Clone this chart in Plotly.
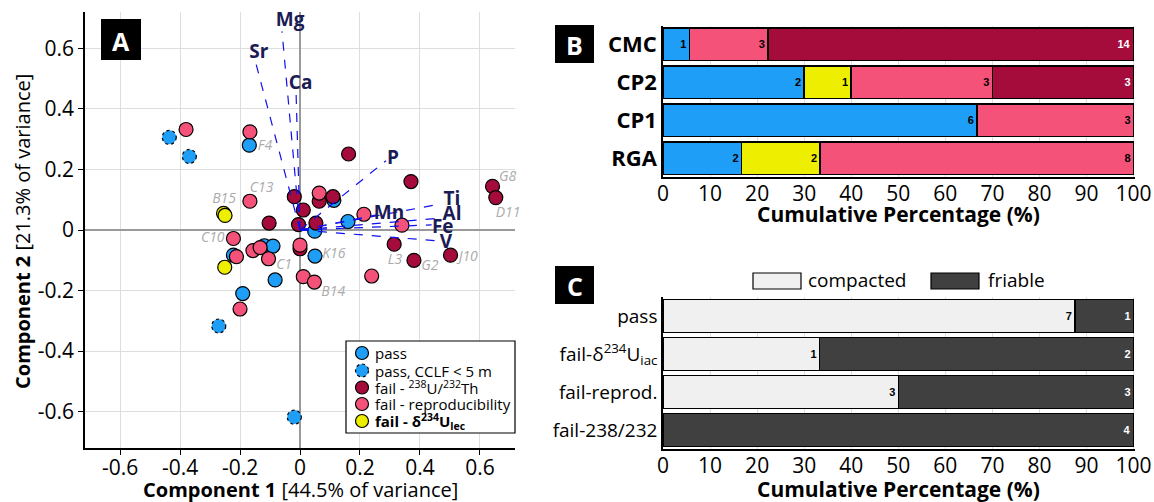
import plotly.graph_objects as go

W, H = 1154, 502
FONT = "Open Sans"

# ---------------- Panel A data (PCA biplot) ----------------
pass_x = [-0.169, 0.113, 0.160, 0.049, -0.119, -0.090, -0.222, 0.050, -0.083, -0.191]
pass_y = [0.280, 0.098, 0.028, -0.004, -0.052, -0.053, -0.083, -0.086, -0.165, -0.210]

cclf_x = [-0.436, -0.369, -0.271, -0.019]
cclf_y = [0.306, 0.243, -0.317, -0.618]

u238_x = [0.162, 0.370, 0.642, 0.653, -0.019, 0.064, 0.110, 0.011, -0.103, -0.005, 0.053, 0.314, 0.000, 0.380, 0.502]
u238_y = [0.251, 0.160, 0.144, 0.107, 0.110, 0.095, 0.110, 0.066, 0.023, 0.018, 0.023, -0.047, -0.062, -0.100, -0.083]

rep_x = [-0.380, -0.167, -0.167, 0.064, 0.213, 0.340, -0.222, -0.157, -0.133, -0.212, -0.105, 0.000, 0.011, 0.048, -0.200, 0.239]
rep_y = [0.332, 0.324, 0.095, 0.122, 0.052, 0.016, -0.028, -0.068, -0.058, -0.088, -0.095, -0.050, -0.154, -0.172, -0.261, -0.152]

dlt_x = [-0.255, -0.250, -0.251]
dlt_y = [0.055, 0.048, -0.123]

# loadings (element vectors)
elem_names = ["Mg", "Sr", "Ca", "P", "Mn", "Ti", "Al", "Fe", "V"]
elem_x = [-0.060, -0.147, -0.013, 0.287, 0.255, 0.464, 0.464, 0.439, 0.461]
elem_y = [0.656, 0.550, 0.450, 0.229, 0.050, 0.085, 0.039, 0.017, -0.036]
elem_lx = [-0.033, -0.137, 0.002, 0.310, 0.297, 0.507, 0.507, 0.476, 0.487]
elem_ly = [0.691, 0.584, 0.482, 0.235, 0.053, 0.099, 0.050, 0.007, -0.043]

# sample labels
samp_names = ["F4", "C13", "B15", "C10", "C1", "K16", "B14", "L3", "G2", "J10", "G8", "D11"]
samp_x = [-0.117, -0.128, -0.253, -0.291, -0.053, 0.113, 0.111, 0.317, 0.433, 0.561, 0.692, 0.694]
samp_y = [0.276, 0.136, 0.100, -0.029, -0.117, -0.080, -0.206, -0.100, -0.119, -0.092, 0.173, 0.055]

a_ticks = [-0.6, -0.4, -0.2, 0, 0.2, 0.4, 0.6]

# ---------------- Panel B data ----------------
b_cats = ["CMC", "CP2", "CP1", "RGA"]
b_pass_pct = [5.6, 30.0, 66.7, 16.7]
b_dlt_pct = [0.0, 10.0, 0.0, 16.7]
b_rep_pct = [16.7, 30.0, 33.3, 66.6]
b_u238_pct = [77.7, 30.0, 0.0, 0.0]
b_pass_n = [1, 2, 6, 2]
b_dlt_n = [0, 1, 0, 2]
b_rep_n = [3, 3, 3, 8]
b_u238_n = [14, 3, 0, 0]

# ---------------- Panel C data ----------------
c_cats = ["pass", "fail-δ<sup>234</sup>U<sub>iac</sub>", "fail-reprod.", "fail-238/232"]
c_comp_pct = [87.5, 33.3, 50.0, 0.0]
c_fri_pct = [12.5, 66.7, 50.0, 100.0]
c_comp_n = [7, 1, 3, 0]
c_fri_n = [1, 2, 3, 4]

pct_ticks = [0, 10, 20, 30, 40, 50, 60, 70, 80, 90, 100]

# colours
BLUE = "#1e9ef7"
DARK = "#a50b3b"
PINK = "#f5527a"
YELL = "#eeee00"
NAVY = "#1b1b55"
LIGHT = "#f0f0f0"
FRI = "#404040"


def PX(px):
    return px / W


def PY(py):
    return 1 - py / H


fig = go.Figure()

mk = dict(size=14, line=dict(color="black", width=1.2))

fig.add_trace(go.Scatter(x=pass_x, y=pass_y, mode="markers", xaxis="x", yaxis="y",
                         marker=dict(color=BLUE, **mk), showlegend=False, name="pass"))
fig.add_trace(go.Scatter(x=cclf_x, y=cclf_y, mode="markers", xaxis="x", yaxis="y",
                         marker=dict(color=BLUE, size=14, line=dict(width=0)), showlegend=False,
                         name="pass, CCLF < 5 m"))
fig.add_trace(go.Scatter(x=u238_x, y=u238_y, mode="markers", xaxis="x", yaxis="y",
                         marker=dict(color=DARK, **mk), showlegend=False, name="fail 238/232"))
fig.add_trace(go.Scatter(x=rep_x, y=rep_y, mode="markers", xaxis="x", yaxis="y",
                         marker=dict(color=PINK, **mk), showlegend=False, name="fail reproducibility"))
fig.add_trace(go.Scatter(x=dlt_x, y=dlt_y, mode="markers", xaxis="x", yaxis="y",
                         marker=dict(color=YELL, **mk), showlegend=False, name="fail d234U"))

# loading vectors
for ex, ey in zip(elem_x, elem_y):
    fig.add_trace(go.Scatter(x=[0.0, ex], y=[0.0, ey], mode="lines", xaxis="x", yaxis="y",
                             line=dict(color="#1010ee", width=1.2, dash="dash"),
                             showlegend=False, hoverinfo="skip"))
# element labels
fig.add_trace(go.Scatter(x=elem_lx, y=elem_ly, mode="text", text=["<b>%s</b>" % n for n in elem_names],
                         xaxis="x", yaxis="y", textfont=dict(family=FONT, size=19, color=NAVY),
                         showlegend=False, hoverinfo="skip", cliponaxis=False))
# sample labels
fig.add_trace(go.Scatter(x=samp_x, y=samp_y, mode="text", text=["<i>%s</i>" % n for n in samp_names],
                         xaxis="x", yaxis="y", textfont=dict(family=FONT, size=14, color="#ababab"),
                         showlegend=False, hoverinfo="skip", cliponaxis=False))

shapes = []
# dashed outlines for CCLF points
for cx, cy in zip(cclf_x, cclf_y):
    shapes.append(dict(type="circle", xref="x", yref="y", xsizemode="pixel", ysizemode="pixel",
                       xanchor=cx, yanchor=cy, x0=-7, x1=7, y0=-7, y1=7,
                       line=dict(color="black", width=1.2, dash="dot"), layer="above"))


# ---------------- Panel B / C bars ----------------
def bar(x, n, cats, color, xa, ya, txtcol, name):
    return go.Bar(y=cats, x=x, orientation="h", xaxis=xa, yaxis=ya, name=name,
                  marker=dict(color=color, line=dict(color="black", width=1.5)),
                  text=[str(v) if v > 0 else "" for v in n], textposition="inside",
                  insidetextanchor="end", constraintext="none",
                  textfont=dict(family="Liberation Sans", size=11, color=txtcol, weight="bold"),
                  showlegend=False, hoverinfo="skip")


fig.add_trace(bar(b_pass_pct, b_pass_n, b_cats, BLUE, "x2", "y2", "black", "pass"))
fig.add_trace(bar(b_dlt_pct, b_dlt_n, b_cats, YELL, "x2", "y2", "black", "fail-d234U"))
fig.add_trace(bar(b_rep_pct, b_rep_n, b_cats, PINK, "x2", "y2", "black", "fail-reprod"))
fig.add_trace(bar(b_u238_pct, b_u238_n, b_cats, DARK, "x2", "y2", "white", "fail-238/232"))

fig.add_trace(bar(c_comp_pct, c_comp_n, c_cats, LIGHT, "x3", "y3", "black", "compacted"))
fig.add_trace(bar(c_fri_pct, c_fri_n, c_cats, FRI, "x3", "y3", "white", "friable"))

annotations = []


def ann(px, py, text, size, xanchor="center", yanchor="middle", angle=0, color="black"):
    annotations.append(dict(x=PX(px), y=PY(py), xref="paper", yref="paper", showarrow=False,
                            xanchor=xanchor, yanchor=yanchor, textangle=angle, text=text,
                            font=dict(family=FONT, size=size, color=color)))


# axis titles
ann(300, 489, "<b>Component 1</b> [44.5% of variance]", 20)
ann(22, 232, "<b>Component 2</b> [21.3% of variance]", 20, angle=-90)
ann(898, 214, "<b>Cumulative Percentage (%)</b>", 21)
ann(898, 489, "<b>Cumulative Percentage (%)</b>", 21)

# panel letters
for letter, (x0, y0, x1, y1) in [("A", (101, 19, 141, 60)), ("B", (555, 25, 594, 63)), ("C", (555, 266, 594, 304))]:
    shapes.append(dict(type="rect", xref="paper", yref="paper", x0=PX(x0), x1=PX(x1), y0=PY(y1), y1=PY(y0),
                       fillcolor="black", line=dict(width=0), layer="above"))
    ann((x0 + x1) / 2, (y0 + y1) / 2 + 1, "<b>%s</b>" % letter, 25, color="white")

# Panel A legend (manual)
shapes.append(dict(type="rect", xref="paper", yref="paper", x0=PX(346), x1=PX(515), y0=PY(433), y1=PY(341),
                   fillcolor="white", line=dict(color="black", width=1.2), layer="above"))
leg_rows = [353, 370.5, 387.5, 404, 421]
leg_cols = [BLUE, BLUE, DARK, PINK, YELL]
leg_dash = ["solid", "dot", "solid", "solid", "solid"]
leg_txt = ["pass", "pass, CCLF &lt; 5 m", "fail - <sup>238</sup>U/<sup>232</sup>Th", "fail - reproducibility",
           "<b>fail - δ<sup>234</sup>U<sub>lec</sub></b>"]
for ry, col, dsh, tx in zip(leg_rows, leg_cols, leg_dash, leg_txt):
    shapes.append(dict(type="circle", xref="paper", yref="paper", x0=PX(355.5), x1=PX(368.5),
                       y0=PY(ry + 6.5), y1=PY(ry - 6.5), fillcolor=col,
                       line=dict(color="black", width=1.2, dash=dsh), layer="above"))
    ann(373, ry, tx, 15, xanchor="left")

# Panel C legend (manual)
for (x0, x1), col, tx, tx0 in [((753, 801), LIGHT, "compacted", 806), ((931, 979), FRI, "friable", 986)]:
    shapes.append(dict(type="rect", xref="paper", yref="paper", x0=PX(x0), x1=PX(x1), y0=PY(289), y1=PY(273),
                       fillcolor=col, line=dict(color="black", width=1.2)))
    ann(tx0, 280, tx, 19, xanchor="left")

tickfont = dict(family=FONT, size=21, color="black")

fig.update_layout(
    width=W, height=H, margin=dict(l=0, r=0, t=0, b=0, autoexpand=False),
    paper_bgcolor="white", plot_bgcolor="white",
    barmode="stack", bargap=0.14,
    font=dict(family=FONT),
    shapes=shapes, annotations=annotations,
    xaxis=dict(domain=[PX(85), PX(515)], range=[-0.717, 0.717], tickvals=a_ticks,
               ticktext=["-0.6", "-0.4", "-0.2", "0", "0.2", "0.4", "0.6"],
               showgrid=True, gridcolor="#dedede", gridwidth=1,
               zeroline=True, zerolinecolor="#9a9a9a", zerolinewidth=2,
               showline=True, linecolor="black", linewidth=1.5, ticks="outside", ticklen=5,
               tickcolor="black", tickfont=tickfont, anchor="y", automargin=False,
               ticklabelstandoff=-5),
    yaxis=dict(domain=[PY(448), PY(12)], range=[-0.72, 0.72], tickvals=a_ticks,
               ticktext=["-0.6", "-0.4", "-0.2", "0", "0.2", "0.4", "0.6"],
               showgrid=True, gridcolor="#dedede", gridwidth=1,
               zeroline=True, zerolinecolor="#9a9a9a", zerolinewidth=2,
               showline=True, linecolor="black", linewidth=1.5, ticks="outside", ticklen=5,
               tickcolor="black", tickfont=tickfont, anchor="x", automargin=False),
    xaxis2=dict(domain=[PX(663), PX(1135)], range=[0, 100.3], tickvals=pct_ticks,
                showgrid=True, gridcolor="#dedede", zeroline=False,
                showline=True, linecolor="black", linewidth=1.5, ticks="",
                tickfont=tickfont, anchor="y2", automargin=False, ticklabelstandoff=-3),
    yaxis2=dict(domain=[PY(177), PY(25.5)], categoryorder="array", categoryarray=b_cats[::-1],
                showgrid=False, showline=True, linecolor="black", linewidth=1.5, ticks="",
                tickfont=dict(family=FONT, size=22, color="black", weight="bold"), anchor="x2",
                automargin=False),
    xaxis3=dict(domain=[PX(663), PX(1135)], range=[0, 100.3], tickvals=pct_ticks,
                showgrid=True, gridcolor="#dedede", zeroline=False,
                showline=True, linecolor="black", linewidth=1.5, ticks="",
                tickfont=tickfont, anchor="y3", automargin=False, ticklabelstandoff=-3),
    yaxis3=dict(domain=[PY(449), PY(297)], categoryorder="array", categoryarray=c_cats[::-1],
                showgrid=False, showline=True, linecolor="black", linewidth=1.5, ticks="",
                tickfont=dict(family=FONT, size=19, color="black"), anchor="x3", automargin=False),
)

fig.write_html("out.html", config={"displayModeBar": False},
               post_script="document.documentElement.style.overflow='hidden';"
                           "document.body.style.margin='0';document.body.style.overflow='hidden';")
